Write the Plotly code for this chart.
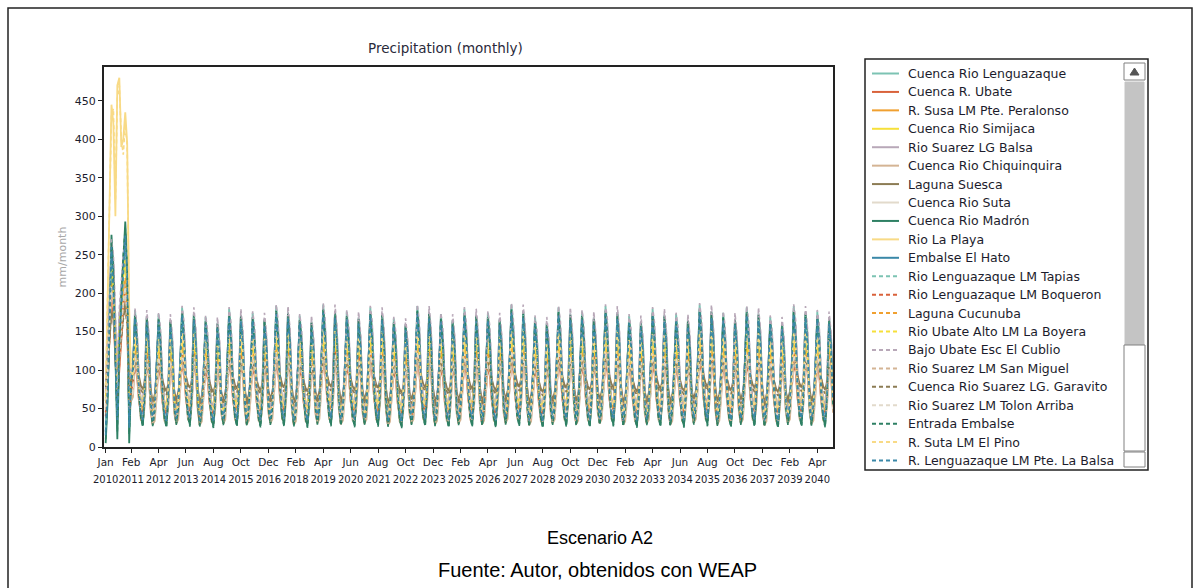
import pandas as pd
import plotly.graph_objects as go

# monthly time axis, Jan 2010 .. Dec 2040
months = pd.date_range("2010-01-01", "2040-12-01", freq="MS")

# Jan 2010 - Feb 2011 (wet start of the run), mm/month
lenguazaque_ini = [20, 90, 170, 250, 220, 130, 40, 140, 200, 230, 270, 220, 20, 95]
ubate_ini = [40, 80, 140, 190, 170, 110, 60, 100, 150, 180, 200, 160, 40, 70]
susa_ini = [50, 100, 160, 210, 190, 120, 70, 120, 160, 190, 215, 175, 50, 80]
simijaca_ini = [60, 120, 180, 240, 200, 140, 80, 150, 190, 220, 240, 200, 60, 90]
suarez_balsa_ini = [70, 130, 200, 260, 240, 160, 90, 170, 210, 240, 260, 210, 70, 100]
chiquinquira_ini = [45, 90, 150, 200, 190, 120, 70, 110, 150, 180, 210, 170, 45, 60]
suesca_ini = [80, 110, 140, 180, 170, 130, 100, 120, 150, 170, 190, 160, 80, 90]
suta_ini = [50, 95, 155, 205, 185, 125, 75, 115, 155, 185, 205, 165, 50, 65]
madron_ini = [5, 60, 160, 276, 230, 110, 10, 120, 200, 240, 293, 240, 5, 90]
la_playa_ini = [60, 180, 310, 445, 420, 300, 470, 480, 390, 400, 435, 395, 180, 90]
el_hato_ini = [15, 80, 170, 250, 210, 130, 40, 140, 180, 230, 270, 220, 30, 95]
tapias_ini = [25, 95, 175, 245, 215, 135, 45, 145, 195, 225, 265, 215, 25, 100]
boqueron_ini = [45, 85, 145, 195, 175, 115, 65, 105, 155, 185, 205, 165, 45, 75]
cucunuba_ini = [55, 105, 165, 215, 195, 125, 75, 125, 165, 195, 220, 180, 55, 85]
boyera_ini = [65, 125, 185, 235, 205, 145, 85, 155, 195, 225, 245, 205, 65, 95]
cublio_ini = [75, 140, 210, 270, 250, 170, 95, 180, 220, 250, 270, 220, 75, 105]
san_miguel_ini = [48, 92, 152, 205, 192, 122, 72, 112, 152, 182, 212, 172, 48, 62]
garavito_ini = [78, 105, 135, 175, 165, 125, 95, 115, 145, 165, 185, 155, 78, 88]
tolon_ini = [52, 98, 158, 208, 188, 128, 78, 118, 158, 188, 208, 168, 52, 68]
entrada_ini = [10, 70, 150, 265, 220, 120, 20, 130, 190, 250, 285, 230, 15, 85]
el_pino_ini = [80, 200, 330, 430, 440, 320, 455, 470, 400, 380, 420, 390, 160, 100]
pte_balsa_ini = [20, 75, 160, 260, 200, 125, 35, 135, 185, 235, 275, 225, 25, 90]

# typical year Jan..Dec from Mar 2011 on
lenguazaque_clim = [38, 52, 100, 178, 150, 82, 58, 50, 85, 170, 140, 68]
ubate_clim = [30, 45, 75, 105, 95, 60, 45, 40, 65, 105, 95, 50]
susa_clim = [35, 50, 85, 125, 115, 70, 50, 45, 70, 130, 110, 55]
simijaca_clim = [40, 60, 95, 140, 125, 80, 60, 55, 85, 145, 120, 65]
suarez_balsa_clim = [45, 60, 105, 165, 150, 90, 60, 55, 90, 170, 145, 75]
chiquinquira_clim = [30, 35, 65, 110, 100, 60, 35, 32, 55, 105, 100, 45]
suesca_clim = [60, 70, 85, 110, 105, 90, 80, 75, 85, 108, 100, 75]
suta_clim = [35, 42, 70, 115, 105, 65, 45, 40, 60, 110, 100, 50]
madron_clim = [30, 50, 100, 172, 140, 70, 40, 28, 70, 168, 130, 55]
la_playa_clim = [40, 55, 90, 140, 125, 75, 55, 50, 80, 140, 120, 60]
el_hato_clim = [35, 55, 100, 165, 135, 75, 45, 35, 75, 160, 130, 60]
tapias_clim = [40, 55, 95, 170, 145, 80, 55, 50, 80, 165, 135, 65]
boqueron_clim = [35, 50, 80, 120, 105, 65, 50, 45, 70, 120, 105, 55]
cucunuba_clim = [40, 55, 85, 130, 115, 70, 55, 50, 75, 125, 110, 60]
boyera_clim = [45, 60, 90, 135, 120, 75, 60, 55, 80, 135, 115, 65]
cublio_clim = [45, 65, 110, 180, 160, 90, 60, 55, 95, 178, 150, 75]
san_miguel_clim = [32, 40, 70, 115, 105, 62, 38, 35, 58, 112, 102, 48]
garavito_clim = [55, 65, 85, 112, 105, 88, 75, 70, 85, 110, 100, 72]
tolon_clim = [38, 45, 72, 120, 108, 68, 48, 42, 62, 115, 102, 52]
entrada_clim = [28, 48, 98, 170, 138, 68, 38, 26, 68, 165, 128, 52]
el_pino_clim = [42, 58, 92, 145, 128, 78, 58, 52, 82, 145, 122, 62]
pte_balsa_clim = [36, 56, 102, 168, 136, 76, 46, 36, 76, 162, 132, 62]

# year-to-year wetness 2011..2040 (from the peak heights)
year_factor = [1.00, 0.97, 1.02, 0.95, 1.01, 0.98, 1.03, 0.96, 1.04, 0.99,
               1.02, 0.94, 1.03, 0.97, 1.01, 0.98, 1.04, 0.95, 1.02, 0.99,
               1.03, 0.96, 1.01, 0.97, 1.04, 0.98, 1.02, 0.95, 1.03, 0.99]

series_names = [
    "Cuenca Rio Lenguazaque", "Cuenca R. Ubate", "R. Susa LM Pte. Peralonso",
    "Cuenca Rio Simijaca", "Rio Suarez LG Balsa", "Cuenca Rio Chiquinquira",
    "Laguna Suesca", "Cuenca Rio Suta", "Cuenca Rio Madrón", "Rio La Playa",
    "Embalse El Hato", "Rio Lenguazaque LM Tapias", "Rio Lenguazaque LM Boqueron",
    "Laguna Cucunuba", "Rio Ubate Alto LM La Boyera", "Bajo Ubate Esc El Cublio",
    "Rio Suarez LM San Miguel", "Cuenca Rio Suarez LG. Garavito",
    "Rio Suarez LM Tolon Arriba", "Entrada Embalse", "R. Suta LM El Pino",
    "R. Lenguazaque LM Pte. La Balsa",
]
series_ini = [lenguazaque_ini, ubate_ini, susa_ini, simijaca_ini, suarez_balsa_ini,
              chiquinquira_ini, suesca_ini, suta_ini, madron_ini, la_playa_ini,
              el_hato_ini, tapias_ini, boqueron_ini, cucunuba_ini, boyera_ini,
              cublio_ini, san_miguel_ini, garavito_ini, tolon_ini, entrada_ini,
              el_pino_ini, pte_balsa_ini]
series_clim = [lenguazaque_clim, ubate_clim, susa_clim, simijaca_clim, suarez_balsa_clim,
               chiquinquira_clim, suesca_clim, suta_clim, madron_clim, la_playa_clim,
               el_hato_clim, tapias_clim, boqueron_clim, cucunuba_clim, boyera_clim,
               cublio_clim, san_miguel_clim, garavito_clim, tolon_clim, entrada_clim,
               el_pino_clim, pte_balsa_clim]

tick_dates = ["2010-01-01", "2011-02-01", "2012-04-01", "2013-06-01", "2014-08-01",
              "2015-10-01", "2016-12-01", "2018-02-01", "2019-04-01", "2020-06-01",
              "2021-08-01", "2022-10-01", "2023-12-01", "2025-02-01", "2026-04-01",
              "2027-06-01", "2028-08-01", "2029-10-01", "2030-12-01", "2032-02-01",
              "2033-04-01", "2034-06-01", "2035-08-01", "2036-10-01", "2037-12-01",
              "2039-02-01", "2040-04-01"]
tick_months = ["Jan", "Feb", "Apr", "Jun", "Aug", "Oct", "Dec", "Feb", "Apr", "Jun",
               "Aug", "Oct", "Dec", "Feb", "Apr", "Jun", "Aug", "Oct", "Dec", "Feb",
               "Apr", "Jun", "Aug", "Oct", "Dec", "Feb", "Apr"]
tick_years = ["2010", "2011", "2012", "2013", "2014", "2015", "2016", "2018", "2019",
              "2020", "2021", "2022", "2023", "2025", "2026", "2027", "2028", "2029",
              "2030", "2032", "2033", "2034", "2035", "2036", "2037", "2039", "2040"]
y_ticks = [0, 50, 100, 150, 200, 250, 300, 350, 400, 450]

# styling
base_colors = ["#7cc3b3", "#d9623b", "#f0a030", "#f6e03a", "#b8a8b8", "#d4b494",
               "#8c7c54", "#e2dacb", "#2e8064", "#f8da86", "#3a88a8"]
colors = base_colors + base_colors
dashes = ["solid"] * 11 + ["4px,3px"] * 11
widths = [1.8] * 11 + [1.6] * 11

# pixel layout of the screenshot
W, H = 1199, 588
L, R, T, B = 104, 833, 67, 447


def fx(px):
    return (px - L) / (R - L)


def fy(py):
    return (B - py) / (B - T)


def monthly(ini, clim):
    vals = list(ini)
    for d in months[len(ini):]:
        vals.append(round(clim[d.month - 1] * year_factor[d.year - 2011], 1))
    return vals


fig = go.Figure()
for i, name in enumerate(series_names):
    fig.add_trace(go.Scatter(
        x=months, y=monthly(series_ini[i], series_clim[i]), name=name,
        mode="lines", showlegend=False,
        line=dict(color=colors[i], width=widths[i], dash=dashes[i]),
    ))
# carrier for the second (year) row of date labels
fig.add_trace(go.Scatter(x=[tick_dates[0]], y=[0], xaxis="x2", mode="markers",
                         marker=dict(opacity=0), showlegend=False, hoverinfo="skip"))

font = "DejaVu Sans"
ink = "#1c1c2c"

fig.update_layout(
    width=W, height=H,
    margin=dict(l=L, r=W - R, t=T, b=H - B),
    paper_bgcolor="white", plot_bgcolor="white",
    showlegend=False,
    xaxis=dict(type="date", range=["2009-12-06", "2040-12-01"],
               tickvals=tick_dates, ticktext=tick_months, tickangle=0,
               ticks="outside", ticklen=4, tickcolor="#222",
               showline=True, mirror=True, linecolor="#222", linewidth=2,
               showgrid=False, zeroline=False,
               tickfont=dict(family=font, size=10.5, color=ink)),
    xaxis2=dict(type="date", range=["2009-12-06", "2040-12-01"], overlaying="x",
                anchor="y", side="bottom",
                tickvals=tick_dates, ticktext=tick_years, tickangle=0,
                ticks="", showline=False, showgrid=False, zeroline=False,
                ticklabelstandoff=25,
                tickfont=dict(family=font, size=10, color=ink)),
    yaxis=dict(range=[0, 494], tickvals=y_ticks, ticks="outside", ticklen=4,
               tickcolor="#222", showline=True, mirror=True, linecolor="#222",
               linewidth=2, showgrid=False, zeroline=False,
               tickfont=dict(family=font, size=11, color=ink),
               title=dict(text="mm/month", standoff=6,
                          font=dict(family=font, size=11, color="#a8a8a8"))),
)


def label(text, x, y, size, fam=font, color=ink, xanchor="center"):
    fig.add_annotation(text=text, x=fx(x), y=fy(y), xref="paper", yref="paper",
                       xanchor=xanchor, yanchor="middle", showarrow=False,
                       font=dict(family=fam, size=size, color=color))


label("Precipitation (monthly)", 445, 48, 13.5, color="#2a2a3a")
label("Escenario A2", 600, 538, 18, fam="Liberation Sans", color="black")
label("Fuente: Autor, obtenidos con WEAP", 597, 570, 20, fam="Liberation Sans",
      color="black")


def box(x0, y0, x1, y1, line="#222", fill="rgba(0,0,0,0)", width=1):
    fig.add_shape(type="rect", xref="paper", yref="paper",
                  x0=fx(x0), y0=fy(y0), x1=fx(x1), y1=fy(y1),
                  line=dict(color=line, width=width), fillcolor=fill, layer="above")


# page frame
box(8, 8, 1192, 600, width=1.5)

# legend panel (WEAP list with scrollbar)
box(865, 59, 1148, 470, width=1.5)
for i, name in enumerate(series_names):
    yy = 73.5 + i * 18.43
    fig.add_shape(type="line", xref="paper", yref="paper", layer="above",
                  x0=fx(872), x1=fx(899), y0=fy(yy), y1=fy(yy),
                  line=dict(color=colors[i], width=2, dash=dashes[i]))
    label(name, 906, yy, 12.5, xanchor="left")
box(1124, 63, 1145, 80, line="#808080", fill="white")
fig.add_shape(type="path", xref="paper", yref="paper", layer="above",
              path=f"M {fx(1130)} {fy(75)} L {fx(1139)} {fy(75)} L {fx(1134.5)} {fy(68)} Z",
              fillcolor="#555", line=dict(color="#555", width=1))
box(1125, 82, 1144, 345, line="#c4c4c4", fill="#c4c4c4")
box(1124, 345, 1145, 451, line="#808080", fill="white")
box(1124, 452, 1145, 467, line="#808080", fill="white")

fig.write_html("out.html", config={"displayModeBar": False},
               post_script="document.body.style.margin='0px';")
